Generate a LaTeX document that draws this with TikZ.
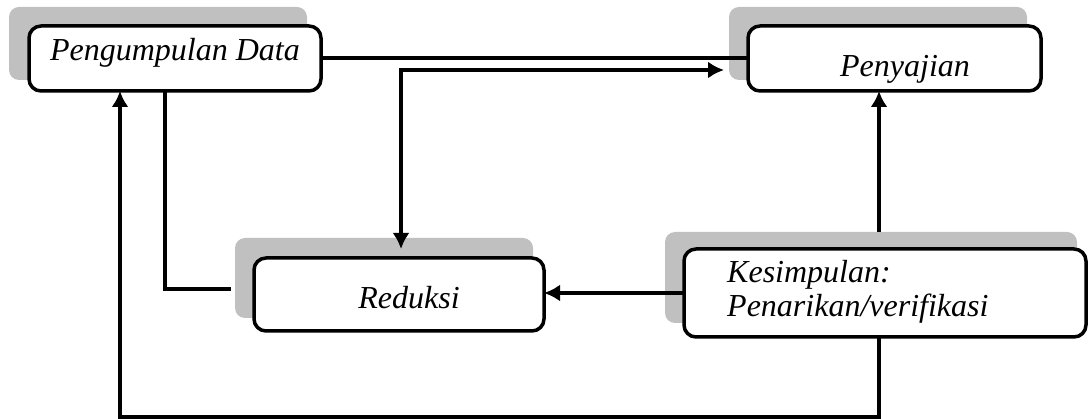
\documentclass[tikz,border=0pt]{standalone}
\usepackage{fontspec}
\setmainfont{Liberation Serif}
\usetikzlibrary{arrows.meta}
\definecolor{shade}{HTML}{C0C0C0}
\begin{document}
\begin{tikzpicture}[x=1pt,y=-1pt,
  shadowbox/.style={fill=shade, draw=none, rounded corners=10pt, inner sep=0pt, outer sep=0pt},
  mainbox/.style={draw=black, fill=white, line width=3.5pt, rounded corners=12pt, inner sep=0pt, outer sep=0pt},
  lbl/.style={font=\fontsize{32}{34}\selectfont\itshape, inner sep=0pt},
  conn/.style={line width=4pt},
  tip/.style={-{Latex[length=16pt,width=17pt]}},
  twotip/.style={{Latex[length=16pt,width=17pt]}-{Latex[length=16pt,width=17pt]}}]
\useasboundingbox (0,0) rectangle (1090,419);
% shadows
\node[shadowbox, minimum width=298pt, minimum height=73pt] (pds) at (158,43.5) {};
\node[shadowbox, minimum width=298pt, minimum height=73pt] (pes) at (878,43.5) {};
\node[shadowbox, minimum width=298pt, minimum height=80pt] (res) at (384,278) {};
\node[shadowbox, minimum width=412pt, minimum height=91pt] (kes) at (871,277.5) {};
% boxes
\node[mainbox, minimum width=292pt, minimum height=65pt] (pd) at (175,58.5) {};
\node[mainbox, minimum width=293pt, minimum height=65pt] (pe) at (894.5,58.5) {};
\node[mainbox, minimum width=290pt, minimum height=73pt] (re) at (399,294.5) {};
\node[mainbox, minimum width=402pt, minimum height=88pt] (ke) at (885,293) {};
% texts
\node[lbl, anchor=base] (t1) at (175,61) {Pengumpulan Data};
\node[lbl, anchor=base] (t2) at (905,77) {Penyajian};
\node[lbl, anchor=base] (t3) at (409,309) {Reduksi};
\node[lbl, anchor=base west] (t4) at (727,283) {\begin{tabular}[t]{@{}l@{}}Kesimpulan:\\Penarikan/verifikasi\end{tabular}};
% helper coordinates
\coordinate (jr) at (401,70);
\coordinate (ja) at (724,70);
\coordinate (jd) at (401,249);
\coordinate (lend) at (231,289);
\coordinate (colr) at (879,0);
\coordinate (bot) at (120,417);
% connectors
\draw[conn] (pd.east) -- (pd.east -| pe.west);
\draw[conn, twotip] (jd) -- (jr) -- (ja);
\draw[conn] ([xshift=-10pt]pd.south) |- (lend);
\draw[conn, tip] (ke.west) -- (ke.west -| re.east);
\draw[conn, tip] (kes.north -| colr) -- (pe.south -| colr);
\draw[conn, tip] (ke.south -| colr) |- (bot) -- (bot |- pd.south);
\end{tikzpicture}
\end{document}
